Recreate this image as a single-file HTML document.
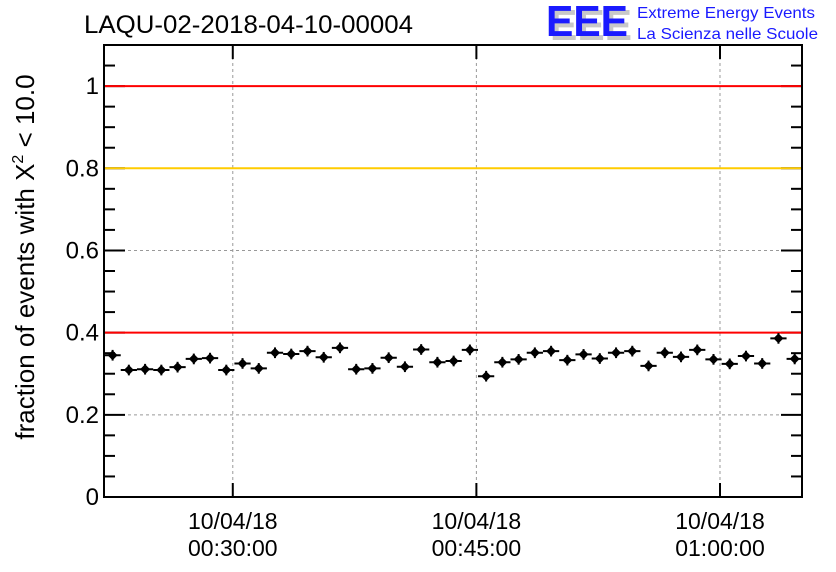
<!DOCTYPE html>
<html><head><meta charset="utf-8"><style>
body{margin:0;background:#fff;}
svg{display:block;font-family:"Liberation Sans",Arial,sans-serif;}
</style></head><body>
<svg id="chart" width="836" height="572" viewBox="0 0 836 572" xmlns="http://www.w3.org/2000/svg">
<rect width="836" height="572" fill="#fff"/>
<text x="84" y="33" font-size="25" textLength="329" lengthAdjust="spacingAndGlyphs">LAQU-02-2018-04-10-00004</text>
<g>
<text x="550" y="40" font-size="44" font-weight="bold" fill="#c8c8c8" textLength="82" lengthAdjust="spacingAndGlyphs">EEE</text>
<text x="546" y="36" font-size="44" font-weight="bold" fill="#1a1aff" textLength="82" lengthAdjust="spacingAndGlyphs">EEE</text>
<text x="637" y="18" font-size="16" fill="#1a1aff" textLength="178" lengthAdjust="spacingAndGlyphs">Extreme Energy Events</text>
<text x="637" y="39" font-size="16" fill="#1a1aff" textLength="181" lengthAdjust="spacingAndGlyphs">La Scienza nelle Scuole</text>
</g>
<text transform="translate(34,257) rotate(-90)" text-anchor="middle" font-size="26">fraction of events with X<tspan font-size="16" dy="-11">2</tspan><tspan dy="11"> &lt; 10.0</tspan></text>
<g id="grid"></g>
<g id="axes"></g>
<g id="refs"></g>
<g id="pts"></g>
</svg>
<script>
const times = [22.6,23.6,24.6,25.6,26.6,27.6,28.6,29.6,30.6,31.6,32.6,33.6,34.6,35.6,36.6,37.6,38.6,39.6,40.6,41.6,42.6,43.6,44.6,45.6,46.6,47.6,48.6,49.6,50.6,51.6,52.6,53.6,54.6,55.6,56.6,57.6,58.6,59.6,60.6,61.6,62.6,63.6,64.6];
const values = [0.345,0.309,0.311,0.309,0.316,0.336,0.338,0.309,0.325,0.313,0.351,0.348,0.355,0.340,0.363,0.311,0.313,0.339,0.317,0.359,0.328,0.331,0.358,0.294,0.328,0.335,0.351,0.355,0.333,0.347,0.337,0.351,0.355,0.319,0.351,0.341,0.358,0.335,0.324,0.343,0.325,0.386,0.336];
const xTickMinutes = [30,45,60];
const xTickLabels = [["10/04/18","00:30:00"],["10/04/18","00:45:00"],["10/04/18","01:00:00"]];
const yTicks = [0,0.2,0.4,0.6,0.8,1];
const yTickLabels = ["0","0.2","0.4","0.6","0.8","1"];
const refLevels = [1.0,0.8,0.4];
const refColors = ["#ff0000","#ffcc00","#ff0000"];

const L=104,R=802,T=45,B=497;
const xMin=22.07,xMax=65.05,yMin=0,yMax=1.1;
const X=m=>L+(m-xMin)/(xMax-xMin)*(R-L);
const Y=v=>B-(v-yMin)/(yMax-yMin)*(B-T);
const NS="http://www.w3.org/2000/svg";
function mk(parent,tag,attrs){const e=document.createElementNS(NS,tag);for(const k in attrs)e.setAttribute(k,attrs[k]);document.getElementById(parent).appendChild(e);return e;}

xTickMinutes.forEach((m,i)=>{
  const g=mk('grid','line',{x1:X(m),x2:X(m),y1:T,y2:B,stroke:'#999','stroke-dasharray':'3,3','stroke-width':1});
  
  
});
yTicks.forEach(v=>{
  const g=mk('grid','line',{x1:L,x2:R,y1:Y(v),y2:Y(v),stroke:'#999','stroke-dasharray':'3,3','stroke-width':1});
  
  
});
const fr=mk('axes','rect',{x:L,y:T,width:R-L,height:B-T,fill:'none',stroke:'#000','stroke-width':2});


for(let k=0;k<=22;k++){
  const v=k*0.05;const major=(k%4===0);const len=major?21:11;
  mk('axes','line',{x1:L,x2:L+len,y1:Y(v),y2:Y(v),stroke:'#000','stroke-width':2});
  mk('axes','line',{x1:R,x2:R-len,y1:Y(v),y2:Y(v),stroke:'#000','stroke-width':2});
}
yTicks.forEach((v,i)=>{
  const t=mk('axes','text',{x:L-5,y:Y(v)+8,'text-anchor':'end','font-size':24});
  t.textContent=yTickLabels[i];
  
  
});
xTickMinutes.forEach((m,i)=>{
  mk('axes','line',{x1:X(m),x2:X(m),y1:B,y2:B-14,stroke:'#000','stroke-width':2});
  mk('axes','line',{x1:X(m),x2:X(m),y1:T,y2:T+14,stroke:'#000','stroke-width':2});
  const t1=mk('axes','text',{x:X(m),y:529,'text-anchor':'middle','font-size':23});
  t1.textContent=xTickLabels[i][0];
  
  
  const t2=mk('axes','text',{x:X(m),y:556,'text-anchor':'middle','font-size':23});
  t2.textContent=xTickLabels[i][1];
  
  
});
refLevels.forEach((v,i)=>{
  const l=mk('refs','line',{x1:L+1,x2:R-1,y1:Y(v),y2:Y(v),stroke:refColors[i],'stroke-width':2});
  
  
});
times.forEach((m,i)=>{
  const x=X(m),y=Y(values[i]);
  const g=mk('pts','g',{});
  
  
  const a=document.createElementNS(NS,'line');
  a.setAttribute('x1',X(m-0.5));a.setAttribute('x2',X(m+0.5));a.setAttribute('y1',y);a.setAttribute('y2',y);a.setAttribute('stroke','#000');a.setAttribute('stroke-width',2);
  g.appendChild(a);
  const b=document.createElementNS(NS,'line');
  b.setAttribute('x1',x);b.setAttribute('x2',x);b.setAttribute('y1',Y(values[i]+0.013));b.setAttribute('y2',Y(values[i]-0.013));b.setAttribute('stroke','#000');b.setAttribute('stroke-width',2);
  g.appendChild(b);
  const d=document.createElementNS(NS,'polygon');
  d.setAttribute('points',`${x},${y-5} ${x+5},${y} ${x},${y+5} ${x-5},${y}`);
  d.setAttribute('fill','#000');
  g.appendChild(d);
});
</script>
</body></html>
